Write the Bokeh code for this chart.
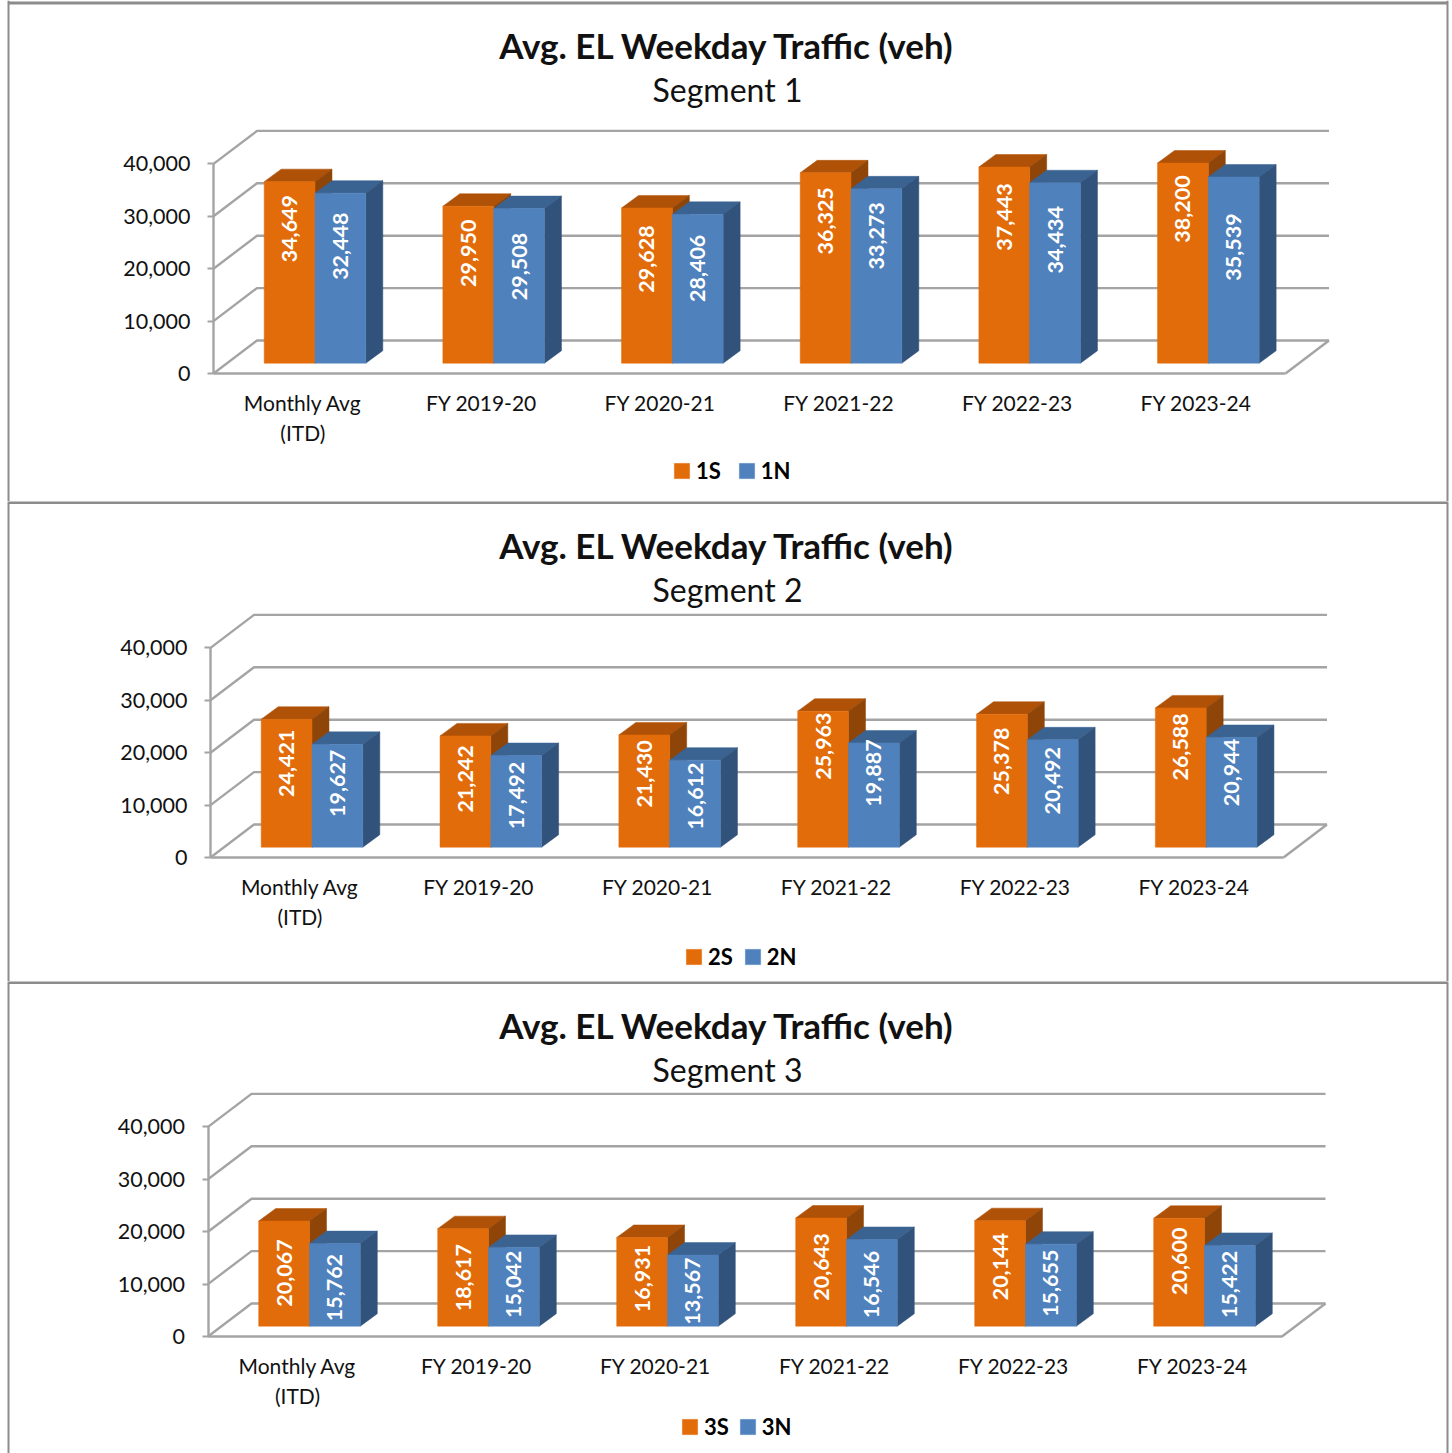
from bokeh.core.properties import value
from bokeh.embed import file_html
from bokeh.layouts import column
from bokeh.models import FixedTicker, Legend, LegendItem, LinearAxis, NumeralTickFormatter, Range1d
from bokeh.plotting import figure
from bokeh.resources import INLINE
import math

categories = ["Monthly Avg\n(ITD)", "FY 2019-20", "FY 2020-21", "FY 2021-22", "FY 2022-23", "FY 2023-24"]
y_ticks = [0, 10000, 20000, 30000, 40000]

segment_names = ["Segment 1", "Segment 2", "Segment 3"]
series_names = [("1S", "1N"), ("2S", "2N"), ("3S", "3N")]
south_1 = [34649, 29950, 29628, 36325, 37443, 38200]
north_1 = [32448, 29508, 28406, 33273, 34434, 35539]
south_2 = [24421, 21242, 21430, 25963, 25378, 26588]
north_2 = [19627, 17492, 16612, 19887, 20492, 20944]
south_3 = [20067, 18617, 16931, 20643, 20144, 20600]
north_3 = [15762, 15042, 13567, 16546, 15655, 15422]
south = [south_1, south_2, south_3]
north = [north_1, north_2, north_3]

# Hand-placed data labels: distance in pixels from the bar top to the label centre.
drop_south = [[47, 47, 51, 48, 50, 46], [44, 43, 39, 35, 47, 39], [52, 49, 41, 49, 46, 43]]
drop_north = [[53, 58, 54, 47, 57, 70], [39, 40, 36, 30, 41, 35], [44, 37, 36, 45, 39, 39]]

# Panel layout in page pixels.
PANEL_TOP = [0, 501, 981]
PANEL_BOTTOM = [501, 981, 1453]
AXIS_X = [213, 210, 207.5]
FLOOR_RIGHT = [1285, 1283, 1281.5]
ZERO_Y = [373, 857, 1336]
LEGEND_X = [672, 684, 680]
LEGEND_Y = [470, 956, 1426]
LEGEND_GAP = [16, 10, 9]
TITLE_Y = [44, 544, 1024]
SUB_Y = [89, 589, 1069]
WIDTH = 1452
PX_PER_VALUE = 52.4 / 10000
WALL_DX, WALL_DY = 43.5, 33
BAR_DX, BAR_DY = 17, 12.5
BAR_INSET, BAR_W, BAR_LIFT = 50.7, 50.8, 10.3

ORANGE = ("#E36C0A", "#AF5106", "#8F4507")
BLUE = ("#4F81BD", "#3B6392", "#31527A")
GRID = "#A4A4A4"
FRAME = "#8C8C8C"
INK = "#111111"
FONT = "Lato"


def draw_bars(p, left, lift, dx, dy, w, values, colours):
    """Draw a 3-D column (top, side, front) for each value; returns the front renderer."""
    front, top, side = colours
    xs_top, ys_top, xs_side, ys_side = [], [], [], []
    for l, v in zip(left, values):
        t = lift + v
        xs_top.append([l, l + w, l + w + dx, l + dx])
        ys_top.append([t, t, t + dy, t + dy])
        xs_side.append([l + w, l + w + dx, l + w + dx, l + w])
        ys_side.append([lift, lift + dy, t + dy, t])
    p.patches(xs_top, ys_top, fill_color=top, line_color=top, line_width=0.5)
    p.patches(xs_side, ys_side, fill_color=side, line_color=side, line_width=0.5)
    return p.quad(left=left, right=[l + w for l in left], bottom=[lift] * len(left),
                  top=[lift + v for v in values], fill_color=front, line_color=front, line_width=0.5)


def panel(i):
    height = PANEL_BOTTOM[i] - PANEL_TOP[i]
    unit = (FLOOR_RIGHT[i] - AXIS_X[i]) / len(categories)
    to_x = lambda px: (px - AXIS_X[i]) / unit
    to_y = lambda py: (ZERO_Y[i] - py) / PX_PER_VALUE
    p = figure(width=WIDTH, height=height, output_backend="svg", toolbar_location=None,
               x_range=Range1d(to_x(0), to_x(WIDTH)),
               y_range=Range1d(to_y(PANEL_BOTTOM[i]), to_y(PANEL_TOP[i])),
               x_axis_location=None, y_axis_location=None, min_border=0, outline_line_color=None)
    p.grid.visible = False

    # Panel frame: left and right rules plus the top rule.
    top_rule = 2.5 if i == 0 else PANEL_TOP[i] + 1
    p.line([to_x(8), to_x(8)], [to_y(PANEL_TOP[i]), to_y(PANEL_BOTTOM[i])], line_color=FRAME, line_width=2)
    p.line([to_x(1447), to_x(1447)], [to_y(PANEL_TOP[i]), to_y(PANEL_BOTTOM[i])], line_color=FRAME, line_width=2)
    p.line([to_x(8), to_x(1447)], [to_y(top_rule), to_y(top_rule)], line_color=FRAME, line_width=3)

    # Wall gridlines and floor of the 3-D box.
    wdx, wdy = WALL_DX / unit, WALL_DY / PX_PER_VALUE
    n = len(categories)
    for t in y_ticks:
        p.line([0, wdx, n + wdx], [t, t + wdy, t + wdy], line_color=GRID, line_width=2.4)
    p.line([n, n + wdx], [0, wdy], line_color=GRID, line_width=2.4)

    # Columns, south direction first so the north one overlaps its side face.
    bdx, bdy = BAR_DX / unit, BAR_DY / PX_PER_VALUE
    inset, bw, lift = BAR_INSET / unit, BAR_W / unit, BAR_LIFT / PX_PER_VALUE
    left_s = [c + inset for c in range(n)]
    left_n = [l + bw for l in left_s]
    r_s = draw_bars(p, left_s, lift, bdx, bdy, bw, south[i], ORANGE)
    r_n = draw_bars(p, left_n, lift, bdx, bdy, bw, north[i], BLUE)

    # Vertical data labels.
    for lefts, vals, drops in ((left_s, south[i], drop_south[i]), (left_n, north[i], drop_north[i])):
        p.text([l + bw / 2 for l in lefts],
               [lift + v - d / PX_PER_VALUE for v, d in zip(vals, drops)],
               text=[f"{v:,}" for v in vals], angle=math.pi / 2, text_color="white",
               text_font=value(FONT), text_font_style="bold", text_font_size="21.5px",
               text_align="center", text_baseline="middle")

    # Title and subtitle.
    mid = to_x(727)
    p.text([mid], [to_y(TITLE_Y[i])], text=["Avg. EL Weekday Traffic (veh)"], text_color=INK,
           text_font=value(FONT), text_font_style="bold", text_font_size="35px",
           text_align="center", text_baseline="middle")
    p.text([mid], [to_y(SUB_Y[i])], text=[segment_names[i]], text_color=INK,
           text_font=value(FONT), text_font_size="32px", text_align="center", text_baseline="middle")

    # Axes pinned to the corner of the box.
    y_axis = LinearAxis(fixed_location=0, ticker=FixedTicker(ticks=y_ticks),
                        formatter=NumeralTickFormatter(format="0,0"), bounds=(0, 40000))
    y_axis.axis_line_color = GRID
    y_axis.axis_line_width = 2.4
    y_axis.major_tick_line_color = GRID
    y_axis.major_tick_line_width = 2
    y_axis.major_tick_in = 0
    y_axis.major_tick_out = 6
    y_axis.minor_tick_line_color = None
    y_axis.major_label_standoff = 17
    y_axis.major_label_text_font = FONT
    y_axis.major_label_text_font_size = "21.5px"
    y_axis.major_label_text_color = INK
    p.add_layout(y_axis, "left")

    x_axis = LinearAxis(fixed_location=0, ticker=FixedTicker(ticks=[c + 0.5 for c in range(n)]),
                        major_label_overrides={c + 0.5: categories[c] for c in range(n)}, bounds=(0, n))
    x_axis.axis_line_color = GRID
    x_axis.axis_line_width = 2.4
    x_axis.major_tick_line_color = None
    x_axis.minor_tick_line_color = None
    x_axis.major_label_standoff = 10
    x_axis.major_label_text_font = FONT
    x_axis.major_label_text_font_size = "21px"
    x_axis.major_label_text_color = INK
    p.add_layout(x_axis, "below")

    # Legend under the chart.
    legend = Legend(items=[LegendItem(label=series_names[i][0], renderers=[r_s]),
                           LegendItem(label=series_names[i][1], renderers=[r_n])],
                    orientation="horizontal", location=(LEGEND_X[i], PANEL_BOTTOM[i] - LEGEND_Y[i] - 14),
                    glyph_width=19, glyph_height=19, label_standoff=5, spacing=LEGEND_GAP[i], padding=0, margin=0,
                    border_line_color=None, background_fill_alpha=0,
                    label_text_font=FONT, label_text_font_style="bold", label_text_font_size="22px",
                    label_text_color="#000000")
    p.add_layout(legend)
    return p


page = column(*[panel(i) for i in range(3)], spacing=0)
open("out.html", "w").write(file_html(page, INLINE))
